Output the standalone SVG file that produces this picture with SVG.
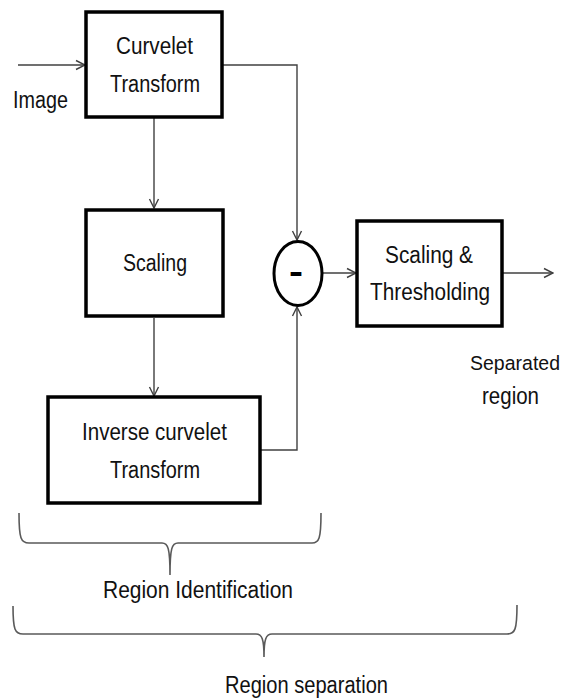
<svg xmlns="http://www.w3.org/2000/svg" width="567" height="700" viewBox="0 0 567 700">
<style>
.box{fill:#fff;stroke:#000;stroke-width:3.5}
.t{font-family:"Liberation Sans",Arial,sans-serif;font-size:23.5px;fill:#111}
.s{font-size:20.5px}
.c{fill:none;stroke:#404040;stroke-width:1.4}
.br{fill:none;stroke:#5a5a5a;stroke-width:1.6}
</style>
<defs>
<marker id="ah" markerUnits="userSpaceOnUse" markerWidth="12" markerHeight="12" viewBox="0 0 12 12" refX="11" refY="6" orient="auto">
<path d="M2,1.5 L11,6 L2,10.5" fill="none" stroke="#404040" stroke-width="1.4"/>
</marker>
</defs>
<rect width="567" height="700" fill="#fff"/>
<g id="connectors">
<path class="c" d="M18,65 H85" marker-end="url(#ah)"/>
<path class="c" d="M154,118 V208" marker-end="url(#ah)"/>
<path class="c" d="M154,318 V396" marker-end="url(#ah)"/>
<path class="c" d="M223,65 H297 V240" marker-end="url(#ah)"/>
<path class="c" d="M261,450 H297 V307" marker-end="url(#ah)"/>
<path class="c" d="M322,273 H356" marker-end="url(#ah)"/>
<path class="c" d="M503,273 H553" marker-end="url(#ah)"/>
</g>
<g id="curvelet">
<rect class="box" x="86" y="12" width="136" height="105"/>
<text class="t" x="116" y="54" textLength="77" lengthAdjust="spacingAndGlyphs">Curvelet</text>
<text class="t" x="110" y="92" textLength="90" lengthAdjust="spacingAndGlyphs">Transform</text>
</g>
<g id="image-label">
<text class="t" x="13" y="108" textLength="55" lengthAdjust="spacingAndGlyphs">Image</text>
</g>
<g id="scaling">
<rect class="box" x="86" y="210" width="137" height="106"/>
<text class="t" x="123" y="271" textLength="64" lengthAdjust="spacingAndGlyphs">Scaling</text>
</g>
<g id="inverse">
<rect class="box" x="48" y="397" width="212" height="106"/>
<text class="t" x="82" y="440" textLength="145" lengthAdjust="spacingAndGlyphs">Inverse curvelet</text>
<text class="t" x="110" y="478" textLength="90" lengthAdjust="spacingAndGlyphs">Transform</text>
</g>
<g id="minus">
<ellipse cx="298" cy="273.5" rx="24" ry="32" fill="#fff" stroke="#000" stroke-width="3"/>
<text x="289" y="283" font-family="'Liberation Sans',Arial,sans-serif" font-weight="bold" font-size="34" textLength="14" lengthAdjust="spacingAndGlyphs" fill="#000">-</text>
</g>
<g id="thresholding">
<rect class="box" x="357" y="221" width="145" height="105"/>
<text class="t" x="385" y="263" textLength="88" lengthAdjust="spacingAndGlyphs">Scaling &amp;</text>
<text class="t" x="370" y="300" textLength="120" lengthAdjust="spacingAndGlyphs">Thresholding</text>
</g>
<g id="separated-label">
<text class="t s" x="470" y="370" textLength="90" lengthAdjust="spacingAndGlyphs">Separated</text>
<text class="t" x="482" y="404" textLength="57" lengthAdjust="spacingAndGlyphs">region</text>
</g>
<g id="region-identification">
<path class="br" d="M19,513 C19,539 21,543 29,543 L162,543 C168,543 170,548 170,575 C170,548 172,543 178,543 L312,543 C319,543 321,539 321,513"/>
<text class="t" x="103" y="598" textLength="190" lengthAdjust="spacingAndGlyphs">Region Identification</text>
</g>
<g id="region-separation">
<path class="br" d="M13,606 C13,630 15,634 23,634 L256,634 C262,634 264,639 264,657 C264,639 266,634 272,634 L507,634 C515,634 517,630 517,605"/>
<text class="t" x="225" y="693" textLength="163" lengthAdjust="spacingAndGlyphs">Region separation</text>
</g>
</svg>
